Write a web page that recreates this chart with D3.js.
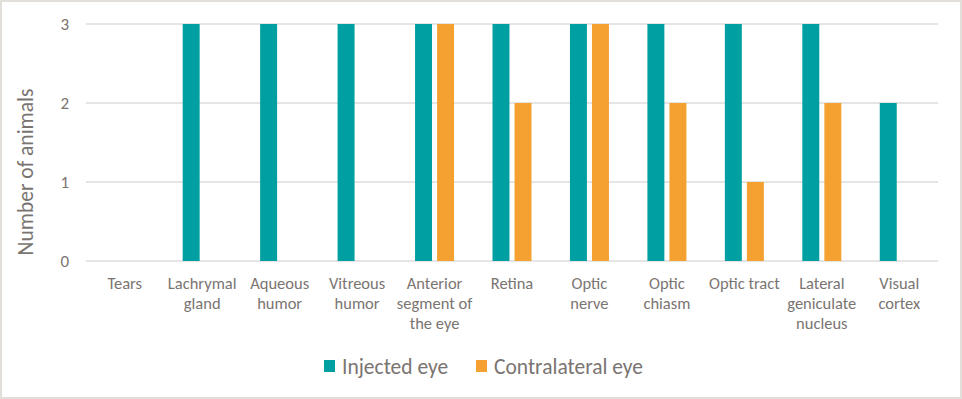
<!DOCTYPE html>
<html>
<head>
<meta charset="utf-8">
<script src="https://cdn.jsdelivr.net/npm/d3@7"></script>
<style>
  body { margin: 0; background: #fff; }
  svg { display: block; font-family: Carlito, Calibri, Lato, sans-serif; }
</style>
</head>
<body>
<svg width="962" height="399"></svg>
<script>
// data
var categories = ['Tears', 'Lachrymal gland', 'Aqueous humor', 'Vitreous humor',
  'Anterior segment of the eye', 'Retina', 'Optic nerve', 'Optic chiasm',
  'Optic tract', 'Lateral geniculate nucleus', 'Visual cortex'];
// how each label wraps in the picture
var categoryLines = [['Tears'], ['Lachrymal', 'gland'], ['Aqueous', 'humor'], ['Vitreous', 'humor'],
  ['Anterior', 'segment of', 'the eye'], ['Retina'], ['Optic', 'nerve'], ['Optic', 'chiasm'],
  ['Optic tract'], ['Lateral', 'geniculate', 'nucleus'], ['Visual', 'cortex']];
var seriesNames = ['Injected eye', 'Contralateral eye'];
var injected = [0, 3, 3, 3, 3, 3, 3, 3, 3, 3, 2];
var contralateral = [0, 0, 0, 0, 3, 2, 3, 2, 1, 2, 0];
var yTicks = [0, 1, 2, 3];
var colors = ['#009FA1', '#F5A132'];

var svg = d3.select('svg');
var width = +svg.attr('width'), height = +svg.attr('height');
var textColor = '#7a7471';

// chart border
svg.append('rect')
  .attr('x', 1).attr('y', 1)
  .attr('width', width - 2).attr('height', height - 2)
  .attr('fill', '#fff').attr('stroke', '#e2ded9').attr('stroke-width', 2);

var plot = { left: 86, right: 938, top: 24, bottom: 261 };

var x0 = d3.scaleBand().domain(categories).range([plot.left, plot.right]).padding(0);
var bw = x0.bandwidth();
var x1 = d3.scaleBand().domain(seriesNames)
  .range([bw / 2 - 19.5, bw / 2 + 19.5]).paddingInner(0.23);
var y = d3.scaleLinear().domain([0, 3]).range([plot.bottom, plot.top]);

// gridlines
svg.append('g').selectAll('line')
  .data(yTicks).enter().append('line')
  .attr('x1', plot.left).attr('x2', plot.right)
  .attr('y1', function(d) { return y(d); })
  .attr('y2', function(d) { return y(d); })
  .attr('stroke', '#dcdcdc').attr('stroke-width', 1.3);

// y tick labels
svg.append('g').selectAll('text')
  .data(yTicks).enter().append('text')
  .attr('x', 69)
  .attr('y', function(d) { return y(d); })
  .attr('dy', '0.36em')
  .attr('text-anchor', 'end')
  .attr('fill', textColor)
  .style('font-size', '17px')
  .text(function(d) { return d; });

// y axis title
svg.append('text')
  .attr('transform', 'translate(33,172) rotate(-90)')
  .attr('text-anchor', 'middle')
  .attr('fill', textColor)
  .style('font-size', '21.5px')
  .text('Number of animals');

// bars
var rows = categories.map(function(c, i) {
  return { cat: c, values: [injected[i], contralateral[i]] };
});
var groups = svg.append('g').selectAll('g')
  .data(rows).enter().append('g')
  .attr('transform', function(d) { return 'translate(' + x0(d.cat) + ',0)'; });
groups.selectAll('rect')
  .data(function(d) {
    return d.values.map(function(v, j) { return { name: seriesNames[j], value: v, j: j }; });
  })
  .enter().append('rect')
  .attr('x', function(d) { return x1(d.name); })
  .attr('width', x1.bandwidth())
  .attr('y', function(d) { return y(d.value); })
  .attr('height', function(d) { return y(0) - y(d.value); })
  .attr('fill', function(d) { return colors[d.j]; });

// category labels
var catLabels = svg.append('g').selectAll('text')
  .data(categories).enter().append('text')
  .attr('x', function(d) { return x0(d) + bw / 2; })
  .attr('y', 289)
  .attr('text-anchor', 'middle')
  .attr('fill', textColor)
  .style('font-size', '16.5px');
catLabels.each(function(d, i) {
  var t = d3.select(this);
  categoryLines[i].forEach(function(line, k) {
    t.append('tspan')
      .attr('x', x0(d) + bw / 2)
      .attr('dy', k === 0 ? 0 : 20)
      .text(line);
  });
});

// legend
var legend = svg.append('g');
var legendX = [324, 476];
seriesNames.forEach(function(name, i) {
  legend.append('rect')
    .attr('x', legendX[i]).attr('y', 360)
    .attr('width', 11).attr('height', 12)
    .attr('fill', colors[i]);
  legend.append('text')
    .attr('x', legendX[i] + 18).attr('y', 366)
    .attr('dy', '0.35em')
    .attr('fill', textColor)
    .style('font-size', '21.5px')
    .text(name);
});
</script>
</body>
</html>
